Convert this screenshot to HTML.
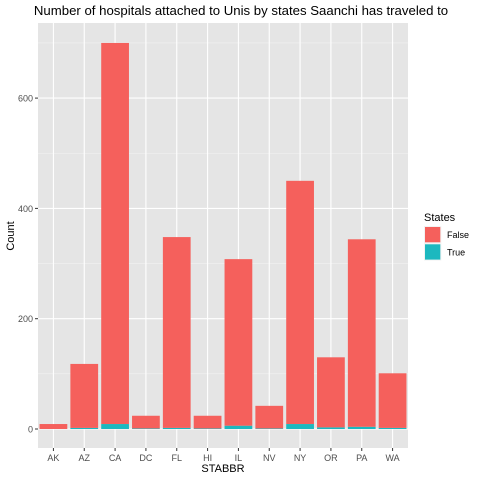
<!DOCTYPE html>
<html><head><meta charset="utf-8"><style>body{margin:0;background:#fff}svg{display:block;font-family:"Liberation Sans",sans-serif}</style></head>
<body>
<svg id="c" width="480" height="480"></svg>
<script>
const categories=["AK","AZ","CA","DC","FL","HI","IL","NV","NY","OR","PA","WA"];
const falseVals=[9,116,691,23,346,23,302,41,441,127,340,99];
const trueVals=[0,2,9,1,2,1,6,1,9,3,4,2];
const yTicks=[0,200,400,600];
const NS="http://www.w3.org/2000/svg";
const svg=document.getElementById('c');
function el(t,a,p){const e=document.createElementNS(NS,t);for(const k in a)e.setAttribute(k,a[k]);(p||svg).appendChild(e);return e;}
const L=38,R=408,T=23,B=448,y0=429,ppu=110.3/200;
const y=v=>y0-v*ppu;
const step=(R-L)/categories.length;
const x=i=>L+step*(i+0.5);
const RED='#f5605c',TEAL='#1cb8bf';
const bg=el('rect',{x:L,y:T,width:R-L,height:B-T,fill:'#e5e5e5'});

[100,300,500,700].forEach(v=>el('line',{x1:L,x2:R,y1:y(v),y2:y(v),stroke:'#f2f2f2','stroke-width':0.6}));
yTicks.forEach(v=>{el('line',{x1:L,x2:R,y1:y(v),y2:y(v),stroke:'#fff','stroke-width':1.1});
 el('line',{x1:L-3,x2:L,y1:y(v),y2:y(v),stroke:'#333'});
 const t=el('text',{x:L-5,y:y(v)+3.5,'text-anchor':'end','font-size':9,fill:'#4d4d4d'});t.textContent=v;
 });
categories.forEach((c,i)=>{
 el('line',{x1:x(i),x2:x(i),y1:T,y2:B,stroke:'#fff','stroke-width':1.1});
 el('line',{x1:x(i),x2:x(i),y1:B,y2:B+3,stroke:'#333'});
 const t=el('text',{x:x(i),y:B+13,'text-anchor':'middle','font-size':9,fill:'#4d4d4d'});t.textContent=c;
 });
const bw=step*0.9;
categories.forEach((c,i)=>{
 const tv=trueVals[i],fv=falseVals[i];
 const r1=el('rect',{x:x(i)-bw/2,y:y(tv),width:bw,height:y(0)-y(tv),fill:TEAL});
 
 const r2=el('rect',{x:x(i)-bw/2,y:y(tv+fv),width:bw,height:y(tv)-y(tv+fv),fill:RED});
 
});
let t=el('text',{x:241,y:15,'text-anchor':'middle','font-size':13.2,fill:'#000'});t.textContent="Number of hospitals attached to Unis by states Saanchi has traveled to";

t=el('text',{x:223,y:472,'text-anchor':'middle','font-size':11,fill:'#000'});t.textContent="STABBR";

t=el('text',{x:14,y:236,'text-anchor':'middle','font-size':11,fill:'#000',transform:'rotate(-90 14 236)'});t.textContent="Count";

t=el('text',{x:424,y:221,'font-size':11,fill:'#000'});t.textContent="States";

[["False",RED],["True",TEAL]].forEach((d,i)=>{
 const g=el('g',{});
 el('rect',{x:424,y:226+i*17.3,width:17.3,height:17.3,fill:'#f2f2f2'},g);
 el('rect',{x:425,y:227+i*17.3,width:15.3,height:15.3,fill:d[1]},g);
 const tt=el('text',{x:447,y:238+i*17.3,'font-size':9,fill:'#000'},g);tt.textContent=d[0];
});
</script>
</body></html>
